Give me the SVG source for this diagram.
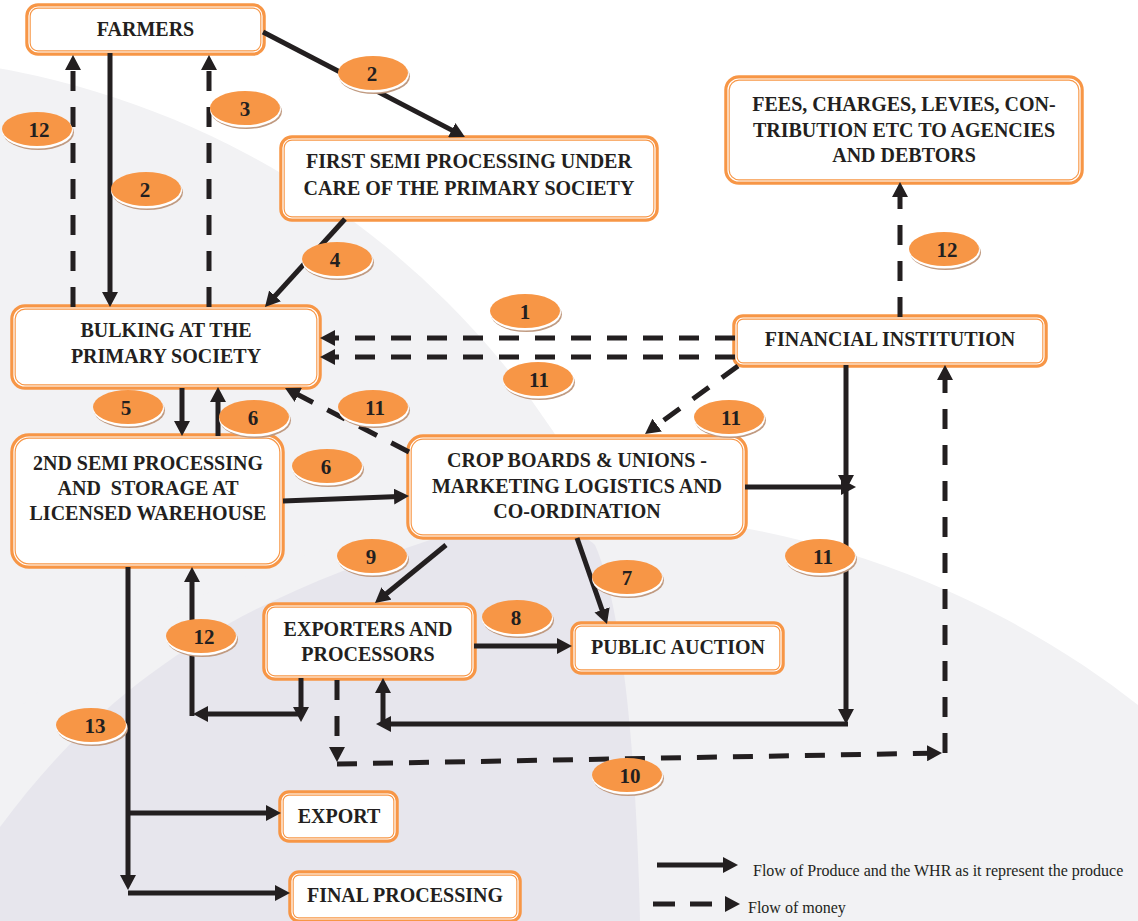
<svg xmlns="http://www.w3.org/2000/svg" width="1138" height="921" viewBox="0 0 1138 921">
  <defs>
    <style>
      .bo { fill: #ffffff; stroke: #f79646; stroke-width: 5.5; }
      .bi { fill: none; stroke: #ffffff; stroke-width: 1.2; }
      .t { font-family: "Liberation Serif", "Times New Roman", serif; font-weight: bold; font-size: 20px; fill: #231f20; text-anchor: middle; }
      .n { font-family: "Liberation Serif", "Times New Roman", serif; font-weight: bold; font-size: 21px; fill: #231f20; text-anchor: middle; }
      .lg { font-family: "Liberation Serif", "Times New Roman", serif; font-size: 16px; fill: #231f20; }
      .solid { fill: none; stroke: #231f20; stroke-width: 5; marker-end: url(#ah); }
      .dash { fill: none; stroke: #231f20; stroke-width: 5; stroke-dasharray: 20 16; marker-end: url(#ah); }
      .plain { fill: none; stroke: #231f20; stroke-width: 5; }
      .sh { fill: #c09a80; }
      .rim { fill: #ffffff; }
      .ov { fill: #f79646; }
    </style>
    <marker id="ah" viewBox="0 0 15 16" refX="5" refY="8" markerWidth="15" markerHeight="16" markerUnits="userSpaceOnUse" orient="auto">
      <path d="M0,0 L15,8 L0,16 Z" fill="#231f20"/>
    </marker>
    <g id="badge">
      <ellipse class="sh" cx="1.5" cy="3.5" rx="35.5" ry="17.5"/>
      <ellipse class="rim" cx="0.5" cy="2" rx="35.5" ry="17.5"/>
      <ellipse class="ov" cx="0" cy="0" rx="35" ry="17"/>
    </g>
  </defs>

  <!-- background washes -->
  <rect x="0" y="0" width="1138" height="921" fill="#ffffff"/>
  <g id="background">
    <circle cx="-150" cy="900" r="845" fill="#f2f2f4"/>
    <circle cx="580" cy="1420" r="907" fill="#f2f2f4"/>
    <path d="M0,827 C130,650 280,590 430,540 C500,525 570,520 595,545 C615,590 635,700 640,921 L0,921 Z" fill="#e7e6ed"/>
  </g>

  <!-- nodes -->
  <g id="farmers">
    <rect class="bo" x="28" y="6" width="235" height="47" rx="10"/>
    <rect class="bi" x="29" y="7" width="233" height="45" rx="9"/>
    <text class="t" x="145.5" y="36">FARMERS</text>
  </g>
  <g id="first-semi-processing">
    <rect class="bo" x="282" y="138" width="374" height="81" rx="10"/>
    <rect class="bi" x="283" y="139" width="372" height="79" rx="9"/>
    <text class="t" x="469" y="168">FIRST SEMI PROCESSING UNDER</text>
    <text class="t" x="469" y="195">CARE OF THE PRIMARY SOCIETY</text>
  </g>
  <g id="fees">
    <rect class="bo" x="727" y="78" width="354" height="104" rx="12"/>
    <rect class="bi" x="728" y="79" width="352" height="102" rx="11"/>
    <text class="t" x="904" y="111">FEES, CHARGES, LEVIES, CON-</text>
    <text class="t" x="904" y="137">TRIBUTION ETC TO AGENCIES</text>
    <text class="t" x="904" y="162">AND DEBTORS</text>
  </g>
  <g id="financial-institution">
    <rect class="bo" x="735" y="317" width="310" height="48" rx="8"/>
    <rect class="bi" x="736" y="318" width="308" height="46" rx="7"/>
    <text class="t" x="890" y="346">FINANCIAL INSTITUTION</text>
  </g>
  <g id="bulking">
    <rect class="bo" x="13" y="307" width="306" height="80" rx="12"/>
    <rect class="bi" x="14" y="308" width="304" height="78" rx="11"/>
    <text class="t" x="166" y="337">BULKING AT THE</text>
    <text class="t" x="166" y="363">PRIMARY SOCIETY</text>
  </g>
  <g id="warehouse">
    <rect class="bo" x="13" y="436" width="269" height="130" rx="16"/>
    <rect class="bi" x="14" y="437" width="267" height="128" rx="15"/>
    <text class="t" x="148" y="470">2ND SEMI PROCESSING</text>
    <text class="t" x="148" y="495" xml:space="preserve">AND  STORAGE AT</text>
    <text class="t" x="148" y="520">LICENSED WAREHOUSE</text>
  </g>
  <g id="crop-boards">
    <rect class="bo" x="409" y="437" width="336" height="100" rx="14"/>
    <rect class="bi" x="410" y="438" width="334" height="98" rx="13"/>
    <text class="t" x="577" y="467">CROP BOARDS &amp; UNIONS -</text>
    <text class="t" x="577" y="493">MARKETING LOGISTICS AND</text>
    <text class="t" x="577" y="518">CO-ORDINATION</text>
  </g>
  <g id="exporters">
    <rect class="bo" x="265" y="605" width="209" height="73" rx="10"/>
    <rect class="bi" x="266" y="606" width="207" height="71" rx="9"/>
    <text class="t" x="368" y="636">EXPORTERS AND</text>
    <text class="t" x="368" y="661">PROCESSORS</text>
  </g>
  <g id="public-auction">
    <rect class="bo" x="573" y="624" width="209" height="48" rx="8"/>
    <rect class="bi" x="574" y="625" width="207" height="46" rx="7"/>
    <text class="t" x="678" y="654">PUBLIC AUCTION</text>
  </g>
  <g id="export">
    <rect class="bo" x="281" y="793" width="115" height="47" rx="8"/>
    <rect class="bi" x="282" y="794" width="113" height="45" rx="7"/>
    <text class="t" x="339" y="823">EXPORT</text>
  </g>
  <g id="final-processing">
    <rect class="bo" x="291" y="873" width="228" height="47" rx="8"/>
    <rect class="bi" x="292" y="874" width="226" height="45" rx="7"/>
    <text class="t" x="405" y="902">FINAL PROCESSING</text>
  </g>

  <!-- connectors -->
  <g id="connectors">
    <path class="solid" d="M110,53 L110,297"/>
    <path class="dash" d="M73,307 L73,65"/>
    <path class="dash" d="M209,307 L209,65"/>
    <path class="solid" d="M263,32 L456.1,132.4"/>
    <path class="solid" d="M345,219 L271.7,299.6"/>
    <path class="solid" d="M182,388 L182,426"/>
    <path class="solid" d="M218,436 L218,397"/>
    <path class="dash" d="M735,338 L330,338"/>
    <path class="dash" d="M735,357 L330,357"/>
    <path class="dash" d="M409,452 L293.9,392.6"/>
    <path class="solid" d="M283,501 L399,496.4"/>
    <path class="dash" d="M738,366 L653.1,428.1"/>
    <path class="solid" d="M846,365 L846,480"/>
    <path class="solid" d="M745,487 L846,487"/>
    <path class="solid" d="M846,488 L846,714"/>
    <path class="solid" d="M848,724 L386,724"/>
    <path class="solid" d="M383,724 L383,688"/>
    <path class="dash" d="M337,680 L337,752"/>
    <path class="dash" d="M337,764 L932,753.2"/>
    <path class="dash" d="M945,753 L945,375"/>
    <path class="solid" d="M192,716 L192,577"/>
    <path class="solid" d="M301,678 L301,712"/>
    <path class="solid" d="M302,714 L203,714"/>
    <path class="solid" d="M128,567 L128,880"/>
    <path class="solid" d="M128,813 L271,813"/>
    <path class="solid" d="M128,893 L280,893"/>
    <path class="solid" d="M446,545 L382.7,596.7"/>
    <path class="solid" d="M577,538 L603.7,614.6"/>
    <path class="solid" d="M474,646 L562,646"/>
    <path class="dash" d="M900,317 L900,192"/>
  </g>

  <!-- step numbers -->
  <g id="steps">
    <use href="#badge" x="37" y="129"/><text class="n" x="39" y="137">12</text>
    <use href="#badge" x="245" y="108"/><text class="n" x="245" y="116">3</text>
    <use href="#badge" x="146" y="189"/><text class="n" x="145" y="197">2</text>
    <use href="#badge" x="373" y="73"/><text class="n" x="372" y="81">2</text>
    <use href="#badge" x="337" y="259"/><text class="n" x="335" y="267">4</text>
    <use href="#badge" x="525" y="311"/><text class="n" x="525" y="319">1</text>
    <use href="#badge" x="538" y="379"/><text class="n" x="539" y="387">11</text>
    <use href="#badge" x="373" y="407"/><text class="n" x="375" y="415">11</text>
    <use href="#badge" x="128" y="407"/><text class="n" x="126" y="415">5</text>
    <use href="#badge" x="254" y="417"/><text class="n" x="253" y="425">6</text>
    <use href="#badge" x="327" y="466"/><text class="n" x="326" y="474">6</text>
    <use href="#badge" x="372" y="556"/><text class="n" x="371" y="564">9</text>
    <use href="#badge" x="729" y="417"/><text class="n" x="731" y="425">11</text>
    <use href="#badge" x="820" y="556"/><text class="n" x="823" y="564">11</text>
    <use href="#badge" x="627" y="577"/><text class="n" x="627" y="585">7</text>
    <use href="#badge" x="517" y="617"/><text class="n" x="516" y="625">8</text>
    <use href="#badge" x="201" y="636"/><text class="n" x="204" y="644">12</text>
    <use href="#badge" x="91" y="725"/><text class="n" x="95" y="733">13</text>
    <use href="#badge" x="627" y="775"/><text class="n" x="630" y="783">10</text>
    <use href="#badge" x="944" y="249"/><text class="n" x="947" y="257">12</text>
  </g>

  <!-- key -->
  <g id="legend">
    <path class="solid" d="M657,865 L728,865"/>
    <text class="lg" x="753" y="876">Flow of Produce and the WHR as it represent the produce</text>
    <path class="plain" d="M653,904 L675,904 M690,904 L712,904"/>
    <path d="M725,896 L740,904 L725,912 Z" fill="#231f20"/>
    <text class="lg" x="748" y="913">Flow of money</text>
  </g>
</svg>
